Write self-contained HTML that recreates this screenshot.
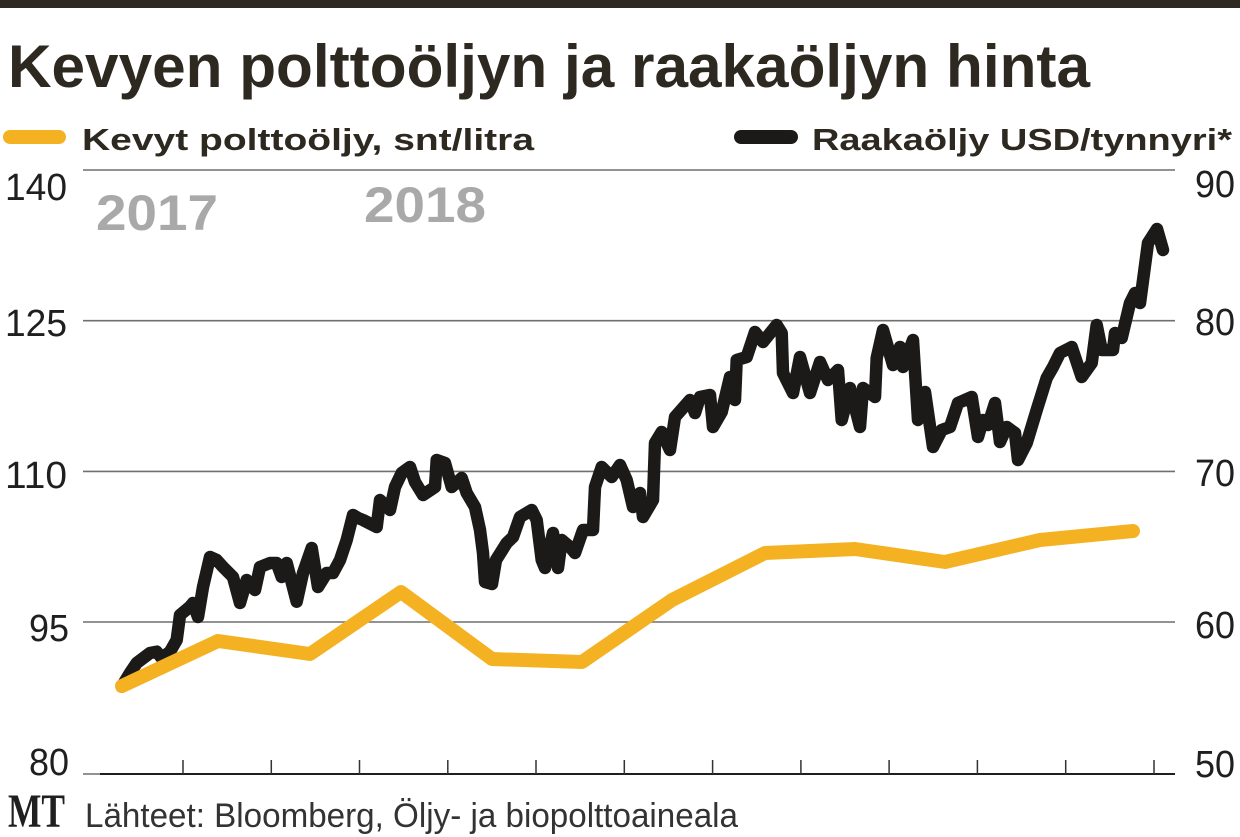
<!DOCTYPE html>
<html>
<head>
<meta charset="utf-8">
<style>
  html, body { margin: 0; padding: 0; background: #ffffff; }
  body { width: 1240px; height: 837px; overflow: hidden; }
  svg { display: block; }
</style>
</head>
<body>
<svg width="1240" height="837" viewBox="0 0 1240 837" xmlns="http://www.w3.org/2000/svg">
  <rect x="0" y="0" width="1240" height="837" fill="#ffffff"/>
  <!-- top bar -->
  <rect x="0" y="0" width="1240" height="8" fill="#2f2a21"/>

  <!-- title -->
  <text x="8" y="87" font-family="Liberation Sans, sans-serif" font-weight="bold" font-size="60" fill="#2d2820" textLength="1082" lengthAdjust="spacingAndGlyphs">Kevyen polttoöljyn ja raakaöljyn hinta</text>

  <!-- legend -->
  <rect x="3" y="130" width="63" height="14" rx="7" fill="#f4b223"/>
  <text x="82" y="150" font-family="Liberation Sans, sans-serif" font-weight="bold" font-size="31" fill="#2d2820" textLength="452" lengthAdjust="spacingAndGlyphs">Kevyt polttoöljy, snt/litra</text>
  <rect x="734" y="130" width="64" height="14" rx="7" fill="#1c1a19"/>
  <text x="812" y="150" font-family="Liberation Sans, sans-serif" font-weight="bold" font-size="31" fill="#2d2820" textLength="420" lengthAdjust="spacingAndGlyphs">Raakaöljy USD/tynnyri*</text>

  <!-- gridlines -->
  <g stroke="#6f6f6f" stroke-width="1.6">
    <line x1="83" y1="170" x2="1175" y2="170"/>
    <line x1="83" y1="320.7" x2="1175" y2="320.7"/>
    <line x1="83" y1="471.4" x2="1175" y2="471.4"/>
    <line x1="83" y1="622" x2="1175" y2="622"/>
    <line x1="83" y1="774" x2="100" y2="774"/>
  </g>
  <!-- x axis -->
  <line x1="100" y1="774" x2="1175" y2="774" stroke="#1f1f1f" stroke-width="2"/>
  <g stroke="#333" stroke-width="1.5">
    <line x1="183" y1="760" x2="183" y2="774"/>
    <line x1="271.3" y1="760" x2="271.3" y2="774"/>
    <line x1="359.5" y1="760" x2="359.5" y2="774"/>
    <line x1="447.8" y1="760" x2="447.8" y2="774"/>
    <line x1="536" y1="760" x2="536" y2="774"/>
    <line x1="624.3" y1="760" x2="624.3" y2="774"/>
    <line x1="712.6" y1="760" x2="712.6" y2="774"/>
    <line x1="800.9" y1="760" x2="800.9" y2="774"/>
    <line x1="889.1" y1="760" x2="889.1" y2="774"/>
    <line x1="977.4" y1="760" x2="977.4" y2="774"/>
    <line x1="1065.7" y1="760" x2="1065.7" y2="774"/>
    <line x1="1154" y1="760" x2="1154" y2="774"/>
  </g>

  <!-- year labels -->
  <text x="96" y="230" font-family="Liberation Sans, sans-serif" font-weight="bold" font-size="50" fill="#a9a9a9" textLength="122" lengthAdjust="spacingAndGlyphs">2017</text>
  <text x="364" y="222" font-family="Liberation Sans, sans-serif" font-weight="bold" font-size="50" fill="#a9a9a9" textLength="122" lengthAdjust="spacingAndGlyphs">2018</text>

  <!-- left axis labels -->
  <g font-family="Liberation Sans, sans-serif" font-size="38" fill="#1f1f1f">
    <text x="5" y="200" textLength="62" lengthAdjust="spacingAndGlyphs">140</text>
    <text x="5" y="336" textLength="62" lengthAdjust="spacingAndGlyphs">125</text>
    <text x="5" y="488" textLength="62" lengthAdjust="spacingAndGlyphs">110</text>
    <text x="29" y="641" textLength="40" lengthAdjust="spacingAndGlyphs">95</text>
    <text x="29" y="775" textLength="40" lengthAdjust="spacingAndGlyphs">80</text>
  </g>
  <!-- right axis labels -->
  <g font-family="Liberation Sans, sans-serif" font-size="38" fill="#1f1f1f">
    <text x="1195" y="197" textLength="40" lengthAdjust="spacingAndGlyphs">90</text>
    <text x="1195" y="335" textLength="40" lengthAdjust="spacingAndGlyphs">80</text>
    <text x="1195" y="486" textLength="40" lengthAdjust="spacingAndGlyphs">70</text>
    <text x="1195" y="638" textLength="40" lengthAdjust="spacingAndGlyphs">60</text>
    <text x="1195" y="777" textLength="40" lengthAdjust="spacingAndGlyphs">50</text>
  </g>

  <!-- crude oil (black) -->
  <polyline fill="none" stroke="#1c1a19" stroke-width="12.5" stroke-linejoin="round" stroke-linecap="round"
    points="121.7,686.7 130,673 136.7,663 150,653 156.7,651.7 161.7,658 170,651.7 176.7,640 180,615 190,606.7 193,603 198,617 203,587 210,557 216.7,560 223,567 233,577 240,603 246.7,580 255,590 260,567 270,563 276.7,563 281.7,577 286.7,563 296.7,601.7 303,573 311.7,548 318,587 326.7,573 333,573 340,560 346.7,540 353,515 358,518 363,520 376.7,527 380,500 390,510 395,487 401.7,473 410,467 415,482 423,495 435,487 436.7,460 445,463 451.7,487 461.7,478 466.7,493 475,507 480,530 483,553 485,582 492,584 496,560 506.7,543 513,537 520,517 531.7,510 536.7,520 541.7,560 545,568 553,533 558,568 561.7,540 570,547 575,553 583,530 593,530 595,487 601.7,467 611.7,477 620,465 626.7,480 633,507 640,493 643,517 653,500 655,443 661.7,432 670,450 675,417 690,400 695,413 700,397 710,395 713,427 721.7,412 730,377 735,400 736.7,360 746.7,357 755,332 763,342 776.7,325 781.7,333 783,373 793,393 800,357 810,393 820,362 828,380 838,370 841.7,420 850,388 860,427 863,388 875,397 876.7,358 883,330 893,365 900,347 903,367 913,340 918,420 925,392 933,447 941.7,430 950,427 958,403 971.7,397 978,437 983,420 988,425 995,403 1000,442 1006.7,427 1015,433 1018,460 1026.7,443 1036.7,410 1046.7,378 1053,367 1060,353 1071.7,347 1081.7,377 1091.7,363 1096.7,325 1101.7,350 1113,350 1115,333 1121.7,338 1130,303 1135,293 1140,303 1148,243 1157,229 1163,250"/>

  <!-- light fuel oil (yellow) -->
  <polyline fill="none" stroke="#f4b223" stroke-width="14" stroke-linejoin="round" stroke-linecap="round"
    points="122,686 218,641 310,654 401,592 492,659 582,662 672,600 765,553 855,549 945,562 1040,540 1133,531"/>

  <!-- footer -->
  <text x="8" y="827" font-family="Liberation Serif, serif" font-weight="bold" font-size="48" fill="#1f1f1f" textLength="57" lengthAdjust="spacingAndGlyphs">MT</text>
  <text x="85" y="827" font-family="Liberation Sans, sans-serif" font-size="34" fill="#333333" textLength="653" lengthAdjust="spacingAndGlyphs">Lähteet: Bloomberg, Öljy- ja biopolttoaineala</text>
</svg>
</body>
</html>
